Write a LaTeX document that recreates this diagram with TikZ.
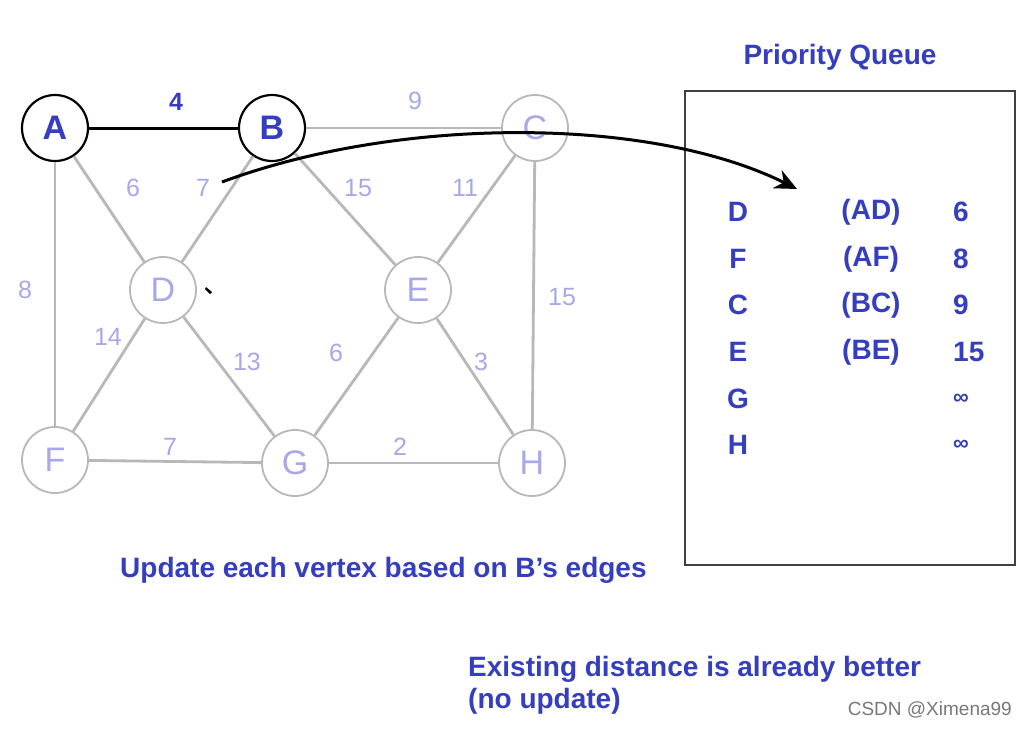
\documentclass[tikz,border=0pt]{standalone}
\usepackage{fontspec}
\setmainfont{Liberation Sans}
\usetikzlibrary{arrows.meta}
\definecolor{qblue}{RGB}{52,62,190}
\definecolor{lav}{RGB}{168,168,232}
\definecolor{egray}{RGB}{184,184,184}
\definecolor{wm}{RGB}{120,120,120}
\tikzset{
  vtx/.style={circle,draw=egray,line width=1.8pt,minimum size=66pt,inner sep=0pt,fill=white,text=lav,font=\fontsize{34}{34}\selectfont},
  vdone/.style={vtx,draw=black,line width=2.2pt,text=qblue,font=\bfseries\fontsize{34}{34}\selectfont},
  edg/.style={draw=egray,line width=2.8pt},
  wt/.style={text=lav,font=\fontsize{25}{25}\selectfont,inner sep=0pt},
  wtb/.style={text=qblue,font=\bfseries\fontsize{25}{25}\selectfont,inner sep=0pt},
  qtxt/.style={text=qblue,font=\bfseries\fontsize{28}{28}\selectfont,inner sep=0pt},
  note/.style={text=qblue,font=\bfseries\fontsize{28}{32}\selectfont,inner sep=0pt,anchor=west}
}
\begin{document}
\begin{tikzpicture}[x=1pt,y=-1pt]
\useasboundingbox (0,0) rectangle (1024,728);
\fill[white] (0,0) rectangle (1024,728);
% vertices
\node[vdone] (A) at (55,128) {A};
\node[vdone] (B) at (272,128) {B};
\node[vtx] (C) at (535,128) {C};
\node[vtx] (D) at (163,290) {D};
\node[vtx] (E) at (418,290) {E};
\node[vtx] (F) at (55,460) {F};
\node[vtx] (G) at (295,463) {G};
\node[vtx] (H) at (532,463) {H};
% edges
\draw[edg] (B) -- (C);
\draw[edg] (A) -- (D);
\draw[edg] (B) -- (D);
\draw[edg] (B) -- (E);
\draw[edg] (C) -- (E);
\draw[edg] (A) -- (F);
\draw[edg] (C) -- (H);
\draw[edg] (D) -- (F);
\draw[edg] (D) -- (G);
\draw[edg] (E) -- (G);
\draw[edg] (E) -- (H);
\draw[edg] (F) -- (G);
\draw[edg] (G) -- (H);
\draw[black,line width=3pt] (A) -- (B);
% weights
\node[wtb] (w1) at (176,102) {4};
\node[wt] (w2) at (415,101) {9};
\node[wt] (w3) at (133,188) {6};
\node[wt] (w4) at (203,188) {7};
\node[wt] (w5) at (358,188) {15};
\node[wt] (w6) at (465,188) {11};
\node[wt] (w7) at (25,290) {8};
\node[wt] (w8) at (562,297) {15};
\node[wt] (w9) at (108,337) {14};
\node[wt] (w10) at (247,362) {13};
\node[wt] (w11) at (336,353) {6};
\node[wt] (w12) at (481,362) {3};
\node[wt] (w13) at (170,447) {7};
\node[wt] (w14) at (400,447) {2};
% cursor
\fill[black] (206,287) -- (212,292) -- (210,294) -- (205,289) -- cycle;
% queue
\node[qtxt] (title) at (840,57) {Priority Queue};
\draw[draw=black!75,line width=1.3pt] (685,91) rectangle (1015,565);
\coordinate (qa) at (222,182);
\coordinate (qb) at (797,189);
\draw[black,line width=3pt,-{Stealth[length=22pt,width=20pt]}] (qa) .. controls (400,116) and (650,116) .. (qb);
\foreach \n/\l/\m/\v/\y in {1/D/(AD)/6/212, 2/F/(AF)/8/259, 3/C/(BC)/9/305, 4/E/(BE)/15/352, 5/G//{\fontsize{22}{22}\selectfont ∞}/399, 6/H//{\fontsize{22}{22}\selectfont ∞}/445}{
  \node[qtxt] (ql\n) at (738,\y) {\l};
  \node[qtxt] (qm\n) at (871,\y) {\m};
  \node[qtxt,anchor=west] (qv\n) at (953,\y) {\v};
}
% notes
\node[note] (n1) at (120,570) {Update each vertex based on B’s edges};
\node[note,align=left,anchor=north west] (n2) at (468,656) {Existing distance is already better\\(no update)};
\node[text=wm,font=\fontsize{19}{19}\selectfont,anchor=east,inner sep=0pt] (wmk) at (1012,710) {CSDN @Ximena99};
\end{tikzpicture}
\end{document}
